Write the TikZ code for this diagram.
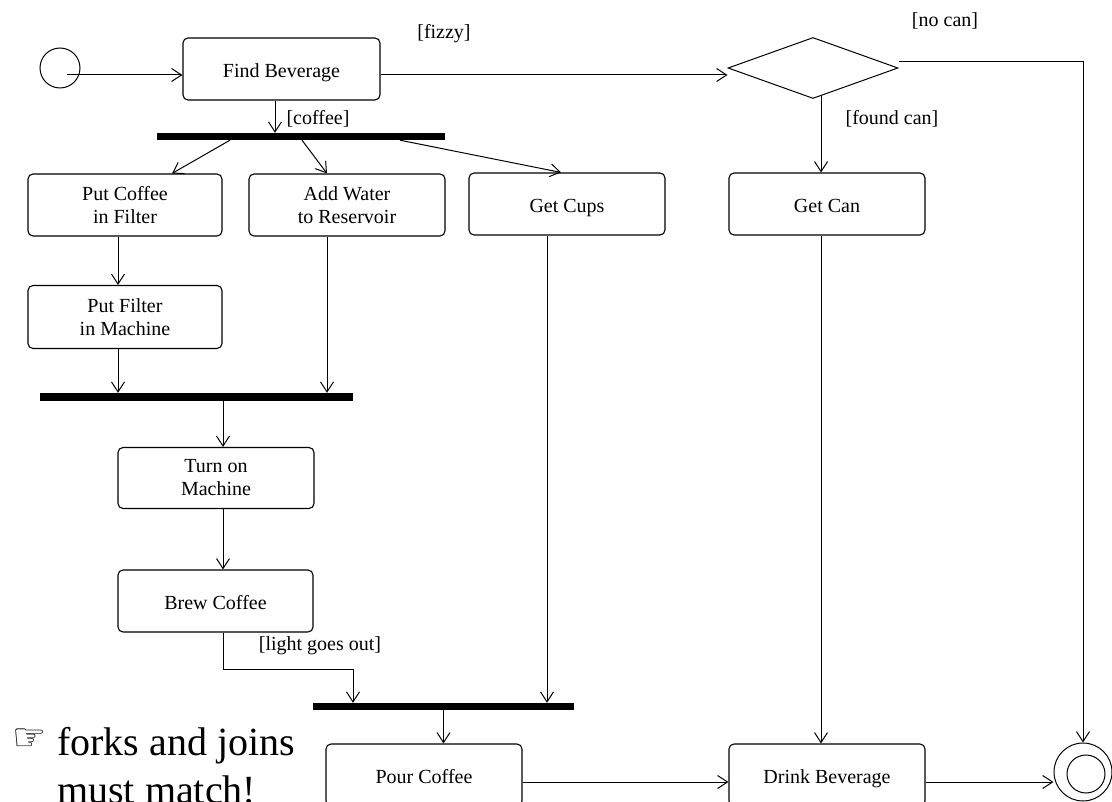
\documentclass[tikz,border=0pt]{standalone}
\usepackage{fontspec}
\setmainfont{Liberation Serif}
\newfontfamily\symbolfont{DejaVu Sans}
\usetikzlibrary{arrows.meta,shapes.geometric}
\begin{document}
\begin{tikzpicture}[x=1pt,y=-1pt,
  every node/.style={font=\fontsize{20}{23}\selectfont},
  activity/.style={draw, rounded corners=5pt, line width=1.1pt, minimum height=62pt, inner sep=0pt, align=center},
  oneline/.style={text height=21pt, text depth=4pt},
  syncbar/.style={fill=black, draw=none, inner sep=0pt, minimum height=7pt},
  flow/.style={line width=1pt, -{Straight Barb[length=10pt,width=13pt]}},
  guard/.style={inner sep=0pt},
  notetext/.style={font=\fontsize{40}{50}\selectfont, anchor=base west, inner sep=0pt},
]
\useasboundingbox (0,0) rectangle (1112,802);
\clip (0,0) rectangle (1112,802);

% start, activities, decision and end
\node[draw, circle, line width=1pt, minimum size=40pt, inner sep=0pt] (init) at (60,68) {};
\node[activity, oneline, minimum width=197pt] (fb) at (281.5,69) {Find Beverage};
\node[draw, diamond, line width=1pt, minimum width=170pt, minimum height=61pt, inner sep=0pt] (dec) at (813,68) {};
\node[syncbar, minimum width=288pt] (bar1) at (301,136.5) {};
\node[activity, minimum width=194pt] (pcf) at (125,205) {Put Coffee\\in Filter};
\node[activity, minimum width=196pt] (awr) at (347,205) {Add Water\\to Reservoir};
\node[activity, oneline, minimum width=196pt] (cups) at (567,204) {Get Cups};
\node[activity, oneline, minimum width=196pt] (can) at (827,204) {Get Can};
\node[activity, minimum width=194pt, minimum height=63pt] (pfm) at (125,317) {Put Filter\\in Machine};
\node[syncbar, minimum width=313pt, minimum height=8pt] (bar2) at (196.5,397) {};
\node[activity, minimum width=196pt, minimum height=61pt] (tom) at (216,478) {Turn on\\Machine};
\node[activity, oneline, minimum width=195pt] (brew) at (215.5,601) {Brew Coffee};
\node[syncbar, minimum width=261pt] (bar3) at (443.5,706.5) {};
\node[activity, oneline, minimum width=196pt] (pour) at (424,775) {Pour Coffee};
\node[activity, oneline, minimum width=196pt] (drink) at (827,775) {Drink Beverage};
\node[draw, circle, line width=1pt, minimum size=58pt, inner sep=0pt] (final) at (1083,772) {};
\node[draw, circle, line width=1pt, minimum size=38pt, inner sep=0pt] (finalcore) at (1086,774) {};

% flows
\coordinate (row1) at (0,75);
\coordinate (row9) at (0,782);
\draw[flow] ([xshift=7pt]init.center |- row1) -- (fb.west |- row1);
\draw[flow] (fb.east |- row1) -- (dec.west |- row1);
\draw[flow] ([xshift=-6.5pt]fb.south) -- ([xshift=-6.5pt]fb.south |- bar1.north);
\draw[flow] ([xshift=-71pt]bar1.south) -- ([xshift=47pt]pcf.north);
\draw[flow] ([xshift=1pt]bar1.south) -- ([xshift=-20pt]awr.north);
\draw[flow] ([xshift=99pt]bar1.south) -- ([xshift=-6pt]cups.north);
\draw[flow] (dec.286) -- (dec.286 |- can.north);
\draw[flow] ([yshift=6pt]dec.east) -| (final.north);
\draw[flow] ([xshift=-7pt]pcf.south) -- ([xshift=-7pt]pfm.north);
\draw[flow] ([xshift=-7pt]pfm.south) -- ([xshift=-7pt]pfm.south |- bar2.north);
\draw[flow] ([xshift=-20pt]awr.south) -- ([xshift=-20pt]awr.south |- bar2.north);
\draw[flow] ([xshift=7pt]tom.north |- bar2.south) -- ([xshift=7pt]tom.north);
\draw[flow] ([xshift=7pt]tom.south) -- ([xshift=7.5pt]brew.north);
\draw[flow] ([xshift=7.5pt]brew.south) -- ++(0,37) -| ([xshift=-90.5pt]bar3.north);
\draw[flow] ([xshift=-20pt]cups.south) -- ([xshift=-20pt]cups.south |- bar3.north);
\draw[flow] (bar3.south) -- (bar3.south |- pour.north);
\draw[flow] (pour.east |- row9) -- (drink.west |- row9);
\draw[flow] ([xshift=-6pt]can.south) -- ([xshift=-6pt]drink.north);
\draw[flow] (drink.east |- row9) -- (final.west |- row9);

% guards
\node[guard] (gfizzy) at (444,34) {[fizzy]};
\node[guard] (gcoffee) at (318,119) {[coffee]};
\node[guard] (gnocan) at (945,21) {[no can]};
\node[guard] (gfound) at (892,119) {[found can]};
\node[guard] (glight) at (320,646) {[light goes out]};

% note
\node[font=\symbolfont\fontsize{38}{38}\selectfont, inner sep=0pt] (hand) at (30,740) {☞};
\node[notetext] (note1) at (57,755) {forks and joins};
\node[notetext] (note2) at (57,803) {must match!};
\end{tikzpicture}
\end{document}
